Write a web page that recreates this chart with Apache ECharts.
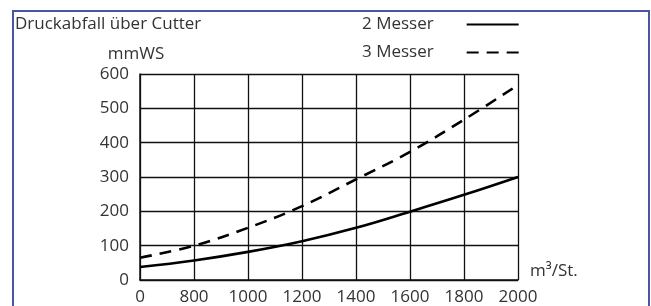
<!DOCTYPE html>
<html>
<head>
<meta charset="utf-8">
<script src="https://cdn.jsdelivr.net/npm/echarts@6/dist/echarts.min.js"></script>
<style>
  html, body { margin: 0; padding: 0; background: #fff; }
  #frame { position: absolute; left: 12px; top: 10px; width: 634px; height: 320px; border: 2px solid #4a55a8; }
  #main { position: absolute; left: 0; top: 0; width: 651px; height: 306px; }
</style>
</head>
<body>
<div id="frame"></div>
<div id="main"></div>
<script>
// Volumenstrom (m³/St.) – Achse ist nicht linear beschriftet
var flow = ['0', '800', '1000', '1200', '1400', '1600', '1800', '2000'];
// Druckabfall in mmWS
var zweiMesser = [38, 57, 82, 113, 152, 199, 248, 300];
var dreiMesser = [65, 100, 152, 215, 293, 373, 467, 568];

var font = '"Open Sans", "Noto Sans", sans-serif';
var myChart = echarts.init(document.getElementById('main'), null, { renderer: 'canvas' });

var option = {
    animation: false,
    title: {
        text: 'Druckabfall über Cutter',
        left: 10,
        top: 11,
        textStyle: { color: '#333', fontSize: 17, fontWeight: 'normal', fontFamily: font }
    },
    legend: {
        orient: 'vertical',
        left: 357,
        top: 11,
        align: 'right',
        itemWidth: 52,
        itemHeight: 14,
        itemGap: 11,
        itemStyle: { opacity: 0 },
        textStyle: { color: '#333', fontSize: 17, fontFamily: font, padding: [0, 28, 0, 0] },
        data: ['2 Messer', '3 Messer']
    },
    grid: { left: 140, right: 133, top: 74, bottom: 24 },
    xAxis: {
        type: 'category',
        data: flow,
        boundaryGap: false,
        name: 'm³/St.',
        nameLocation: 'end',
        nameGap: 12,
        nameTextStyle: { color: '#333', fontSize: 17, fontFamily: font, verticalAlign: 'bottom', align: 'left' },
        axisLine: { lineStyle: { color: '#111', width: 1.5 } },
        axisTick: { show: false },
        axisLabel: { color: '#333', fontSize: 17, fontFamily: font, margin: 9 },
        splitLine: { show: true, lineStyle: { color: '#111', width: 1.3 } }
    },
    yAxis: {
        type: 'value',
        min: 0,
        max: 600,
        interval: 100,
        name: 'mmWS',
        nameLocation: 'end',
        nameGap: 11,
        nameTextStyle: { color: '#333', fontSize: 17, fontFamily: font, padding: [0, 8, 0, 0] },
        axisLine: { show: true, lineStyle: { color: '#111', width: 1.5 } },
        axisTick: { show: false },
        axisLabel: { color: '#333', fontSize: 17, fontFamily: font, margin: 11 },
        splitLine: { show: true, lineStyle: { color: '#111', width: 1.3 } }
    },
    series: [
        {
            name: '2 Messer',
            type: 'line',
            data: zweiMesser,
            smooth: 0.4,
            symbol: 'none',
            lineStyle: { color: '#000', width: 2.6, type: 'solid' },
            itemStyle: { color: '#000' }
        },
        {
            name: '3 Messer',
            type: 'line',
            data: dreiMesser,
            smooth: 0.4,
            symbol: 'none',
            lineStyle: { color: '#000', width: 2.6, type: [12, 8] },
            itemStyle: { color: '#000' }
        }
    ]
};

myChart.setOption(option);
</script>
</body>
</html>
